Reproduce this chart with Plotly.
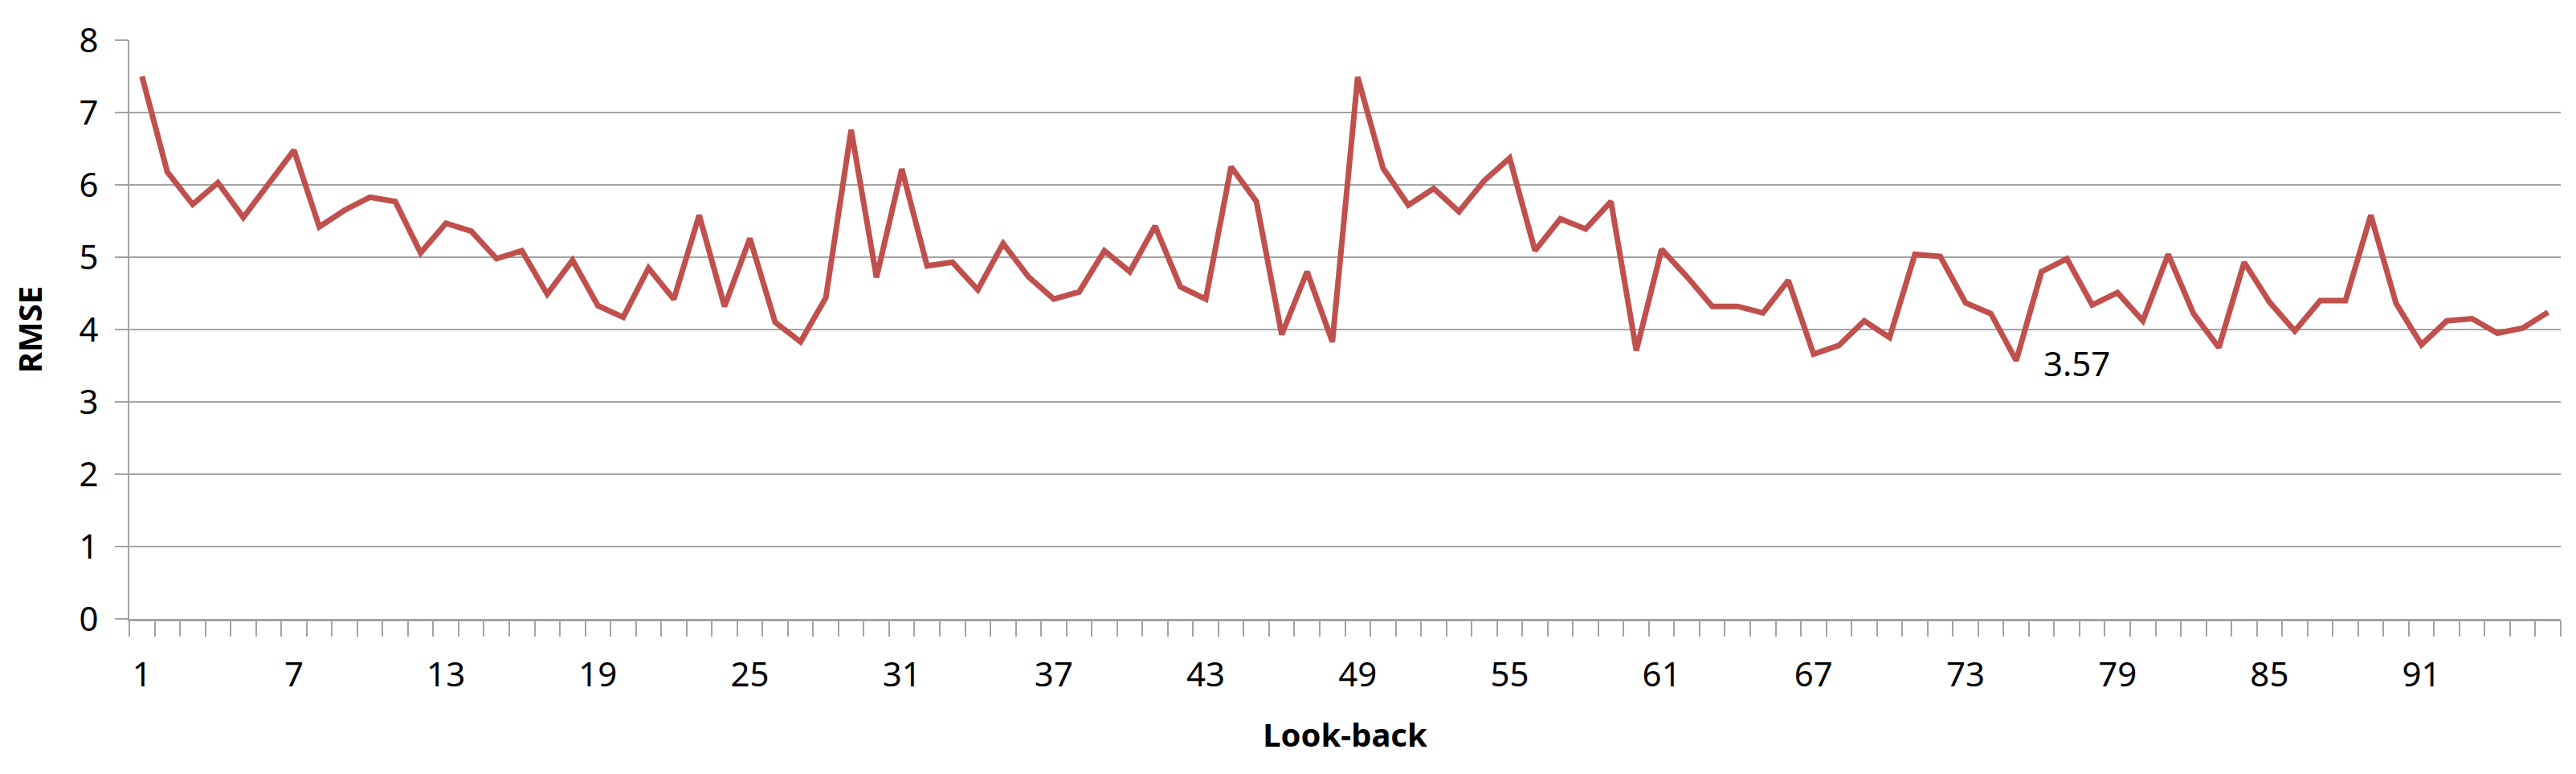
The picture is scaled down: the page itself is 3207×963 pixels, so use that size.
import plotly.graph_objects as go

look_back = list(range(1, 97))
rmse = [
    7.50, 6.18, 5.73, 6.03, 5.55, 6.02, 6.48, 5.42, 5.65, 5.83,
    5.77, 5.06, 5.47, 5.36, 4.98, 5.09, 4.49, 4.96, 4.33, 4.17,
    4.85, 4.42, 5.58, 4.32, 5.26, 4.10, 3.83, 4.44, 6.76, 4.72,
    6.22, 4.88, 4.93, 4.55, 5.19, 4.73, 4.42, 4.52, 5.09, 4.80,
    5.43, 4.59, 4.42, 6.25, 5.77, 3.93, 4.80, 3.83, 7.49, 6.23,
    5.72, 5.95, 5.63, 6.06, 6.37, 5.09, 5.53, 5.39, 5.77, 3.71,
    5.11, 4.73, 4.32, 4.32, 4.23, 4.68, 3.66, 3.78, 4.12, 3.89,
    5.04, 5.01, 4.37, 4.22, 3.57, 4.80, 4.98, 4.34, 4.51, 4.12,
    5.04, 4.22, 3.75, 4.93, 4.38, 3.98, 4.40, 4.40, 5.58, 4.36,
    3.79, 4.12, 4.15, 3.95, 4.02, 4.24,
]
x_labels = list(range(1, 97, 6))
y_ticks = list(range(0, 9))

grid = "#a3a3a3"
font = "Noto Sans"

fig = go.Figure(
    go.Scatter(
        x=look_back,
        y=rmse,
        mode="lines",
        line=dict(color="#c0504d", width=7),
        hoverinfo="x+y",
    )
)

# label the lowest error
i_min = rmse.index(min(rmse))
fig.add_annotation(
    x=look_back[i_min],
    y=rmse[i_min],
    text=f"{rmse[i_min]:.2f}",
    showarrow=False,
    xshift=75,
    yshift=-3,
    font=dict(family=font, size=42, color="#000000"),
)

fig.update_layout(
    width=3207,
    height=963,
    margin=dict(l=153, r=27, t=40, b=201),
    paper_bgcolor="white",
    plot_bgcolor="white",
    showlegend=False,
    font=dict(family=font, size=42, color="#000000"),
    xaxis=dict(
        range=[0.5, 96.5],
        tickvals=x_labels,
        ticktext=[str(v) for v in x_labels],
        ticks="",
        ticklabelstandoff=31,
        showgrid=False,
        zeroline=False,
        showline=True,
        linecolor=grid,
        linewidth=3,
        minor=dict(ticks="outside", tick0=0.5, dtick=1, ticklen=19, tickcolor=grid, tickwidth=2, showgrid=False),
        title=dict(text="<b>Look-back</b>", font=dict(family=font, size=40), standoff=36),
    ),
    yaxis=dict(
        range=[0, 8],
        tickvals=y_ticks,
        ticks="outside",
        ticklen=16,
        tickcolor=grid,
        tickwidth=2,
        ticklabelstandoff=12,
        showgrid=True,
        gridcolor=grid,
        gridwidth=2,
        zeroline=False,
        showline=True,
        linecolor=grid,
        linewidth=2,
        title=dict(text="<b>RMSE</b>", font=dict(family=font, size=40), standoff=34),
    ),
)

fig.write_html("out.html")
